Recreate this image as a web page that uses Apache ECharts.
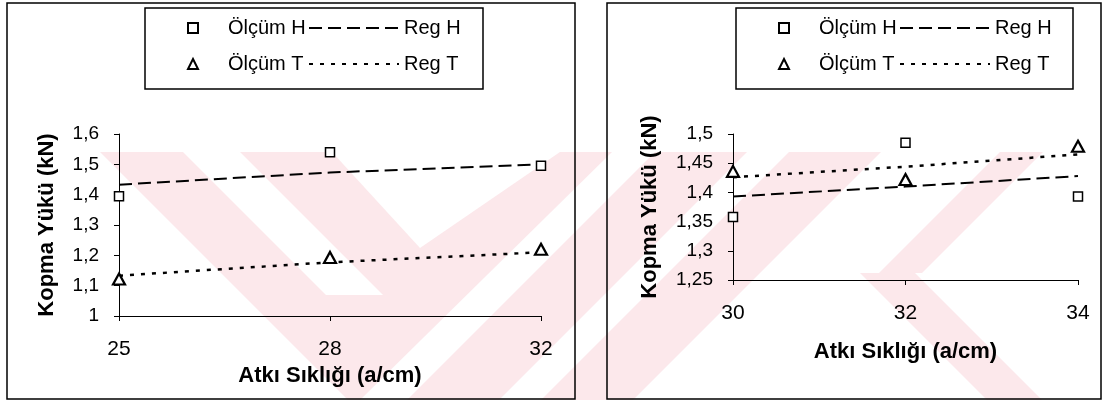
<!DOCTYPE html>
<html>
<head>
<meta charset="utf-8">
<script src="https://cdn.jsdelivr.net/npm/echarts@6/dist/echarts.min.js"></script>
<style>
html, body { margin: 0; padding: 0; background: #fff; }
#myChart { width: 1105px; height: 403px; }
</style>
</head>
<body>
<div id="myChart"></div>
<script>
// sol grafik: atkı sıklığı 25-28-32
var catsA = ['25', '28', '32'];
var olcumHA = [1.395, 1.54, 1.495];
var regHA = [1.433, 1.473, 1.50];
var olcumTA = [1.122, 1.193, 1.22];
var regTA = [1.133, 1.177, 1.21];

// sağ grafik: atkı sıklığı 30-32-34
var catsB = ['30', '32', '34'];
var olcumHB = [1.358, 1.485, 1.393];
var regHB = [1.393, 1.41, 1.428];
var olcumTB = [1.436, 1.422, 1.479];
var regTB = [1.426, 1.444, 1.465];

var FONT = '"Liberation Sans", Arial, sans-serif';
var pink = '#fce8eb';

function fmt(v) {
  return String(+v.toFixed(2)).replace('.', ',');
}

function xAxisOf(idx, cats, gap) {
  return {
    type: 'category', gridIndex: idx, data: cats, boundaryGap: false,
    name: 'Atkı Sıklığı (a/cm)', nameLocation: 'middle', nameGap: gap,
    nameTextStyle: { color: '#000', fontSize: 22, fontWeight: 'bold', fontFamily: FONT },
    axisLine: { lineStyle: { color: '#000', width: 1 } },
    axisTick: { show: true, length: 5, lineStyle: { color: '#000' } },
    axisLabel: { color: '#000', fontSize: 21, fontFamily: FONT, margin: 23 },
    splitLine: { show: false }
  };
}

function yAxisOf(idx, min, max, step, gap) {
  return {
    type: 'value', gridIndex: idx, min: min, max: max, interval: step,
    name: 'Kopma Yükü (kN)', nameLocation: 'middle', nameGap: gap,
    nameTextStyle: { color: '#000', fontSize: 22, fontWeight: 'bold', fontFamily: FONT },
    axisLine: { show: true, lineStyle: { color: '#000', width: 1 } },
    axisTick: { show: true, length: 5, lineStyle: { color: '#000' } },
    axisLabel: { color: '#000', fontSize: 19, fontFamily: FONT, margin: 20, formatter: fmt },
    splitLine: { show: false }
  };
}

function pointSeries(name, idx, data, symbol, size, bw) {
  return {
    name: name, type: 'scatter', xAxisIndex: idx, yAxisIndex: idx,
    symbol: symbol, symbolSize: size, data: data, z: 5,
    itemStyle: { color: '#fff', borderColor: '#000', borderWidth: bw, opacity: 1 }
  };
}

function regSeries(name, idx, data, dash, w) {
  return {
    name: name, type: 'line', xAxisIndex: idx, yAxisIndex: idx,
    symbol: 'none', data: data, z: 3,
    lineStyle: { color: '#000', width: w, type: dash },
    itemStyle: { color: '#000' }
  };
}

function legendsAt(x0) {
  var txt = { color: '#000', fontSize: 20, fontFamily: FONT, lineHeight: 24 };
  return [
    {
      data: ['Ölçüm H', 'Ölçüm T'], orient: 'vertical', left: x0 + 37, top: 11,
      itemWidth: 10, itemHeight: 10, itemGap: 12, selectedMode: false,
      textStyle: { color: '#000', fontSize: 20, fontFamily: FONT, lineHeight: 24, padding: [0, 0, 0, 25] }
    },
    {
      data: ['Reg H', 'Reg T'], orient: 'vertical', left: x0 + 158, top: 11,
      itemWidth: 90, itemHeight: 10, itemGap: 12, selectedMode: false,
      itemStyle: { opacity: 0 }, textStyle: txt
    }
  ];
}

function poly(points, fill, z) {
  return { type: 'polygon', z: z, silent: true, shape: { points: points }, style: { fill: fill } };
}

// filigran şeritleri: üst kenarda [a,b], y0'dan y1'e 45 derece
function band(a, b, y0, y1, dir) {
  var d = (y1 - y0) * dir;
  return poly([[a, y0], [b, y0], [b + d, y1], [a + d, y1]], pink, -20);
}

var option = {
  backgroundColor: '#fff',
  animation: false,
  grid: [
    { left: 119, top: 134, width: 422, height: 182 },
    { left: 733, top: 134, width: 345, height: 146 }
  ],
  xAxis: [xAxisOf(0, catsA, 49), xAxisOf(1, catsB, 61)],
  yAxis: [yAxisOf(0, 1, 1.6, 0.1, 61), yAxisOf(1, 1.25, 1.5, 0.05, 72)],
  legend: legendsAt(145).concat(legendsAt(736)),
  series: [
    pointSeries('Ölçüm H', 0, olcumHA, 'rect', 9, 1.5),
    regSeries('Reg H', 0, regHA, [13, 6], 2),
    pointSeries('Ölçüm T', 0, olcumTA, 'triangle', [12, 11], 2.2),
    regSeries('Reg T', 0, regTA, [4, 7], 2.5),
    pointSeries('Ölçüm H', 1, olcumHB, 'rect', 9, 1.5),
    regSeries('Reg H', 1, regHB, [13, 6], 2),
    pointSeries('Ölçüm T', 1, olcumTB, 'triangle', [12, 11], 2.2),
    regSeries('Reg T', 1, regTB, [4, 7], 2.5)
  ],
  graphic: [
    // soluk filigran
    poly([[100, 152], [612, 152], [360, 400], [348, 400]], pink, -20),
    poly([[183, 152], [240, 152], [383, 295], [326, 295]], '#fff', -19),
    poly([[332, 152], [560, 152], [420, 248]], '#fff', -19),
    band(655, 747, 152, 400, -1),
    band(789, 881, 152, 400, -1),
    band(1000, 1043, 152, 273, -1),
    band(860, 915, 273, 400, 1),
    // panel çerçeveleri
    { type: 'rect', z: 10, silent: true, shape: { x: 7, y: 3, width: 568, height: 396 }, style: { fill: null, stroke: '#000', lineWidth: 1.5 } },
    { type: 'rect', z: 10, silent: true, shape: { x: 607, y: 3, width: 494, height: 396 }, style: { fill: null, stroke: '#000', lineWidth: 1.5 } },
    // lejant kutuları
    { type: 'rect', z: 1, silent: true, shape: { x: 145, y: 8, width: 338, height: 81 }, style: { fill: '#fff', stroke: '#000', lineWidth: 1.5 } },
    { type: 'rect', z: 1, silent: true, shape: { x: 736, y: 8, width: 337, height: 81 }, style: { fill: '#fff', stroke: '#000', lineWidth: 1.5 } }
  ]
};

var myChart = echarts.init(document.getElementById('myChart'));
myChart.setOption(option);
</script>
</body>
</html>
